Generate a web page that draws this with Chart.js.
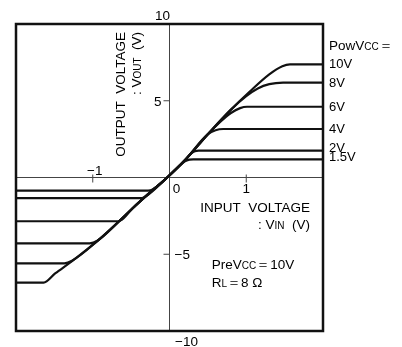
<!DOCTYPE html>
<html>
<head>
<meta charset="utf-8">
<script src="https://cdn.jsdelivr.net/npm/chart.js@4.4.1/dist/chart.umd.min.js"></script>
<style>
  body { margin: 0; background: #fff; }
</style>
</head>
<body>
<canvas id="c" width="402" height="347"></canvas>
<script>
// PowVcc curves, [Vin, Vout]
const pow15 = [[-2,-0.85],[-0.28,-0.85],[-0.22,-0.78],[-0.03,0],[0.2,1.05],[0.26,1.16],[0.31,1.18],[2,1.18]];
const pow2  = [[-2,-1.34],[-0.36,-1.34],[-0.3,-1.2],[-0.03,0],[0.2,1.12],[0.29,1.6],[0.33,1.71],[0.38,1.75],[2,1.75]];
const pow4  = [[-2,-2.85],[-0.67,-2.85],[-0.6,-2.66],[-0.48,-2.0],[-0.26,-1.0],[-0.03,0],[0.2,1.12],[0.5,2.82],[0.6,3.08],[0.7,3.16],[2,3.16]];
const pow6  = [[-2,-4.29],[-1.04,-4.29],[-0.94,-4.12],[-0.65,-2.82],[-0.48,-2.0],[-0.26,-1.0],[-0.03,0],[0.2,1.12],[0.5,2.82],[0.66,3.62],[0.8,4.2],[0.92,4.52],[1.01,4.61],[2,4.61]];
const pow8  = [[-2,-5.59],[-1.37,-5.59],[-1.27,-5.42],[-0.92,-4.05],[-0.65,-2.82],[-0.48,-2.0],[-0.26,-1.0],[-0.03,0],[0.2,1.12],[0.5,2.82],[0.8,4.42],[1.0,5.3],[1.15,5.8],[1.3,6.08],[1.48,6.18],[2,6.18]];
const pow10 = [[-2,-6.85],[-1.64,-6.85],[-1.49,-6.25],[-1.27,-5.45],[-0.92,-4.05],[-0.65,-2.82],[-0.48,-2.0],[-0.26,-1.0],[-0.03,0],[0.2,1.12],[0.5,2.82],[0.8,4.42],[1.05,5.62],[1.3,6.72],[1.47,7.25],[1.57,7.37],[2,7.37]];

const seriesNames = ['1.5V', '2V', '4V', '6V', '8V', '10V'];
const seriesData = [pow15, pow2, pow4, pow6, pow8, pow10];
// label nudges so 2V and 1.5V don't overlap
const labelShift = [-3, -3.5, 0, 0, 0, -1];

const FONT = '"Liberation Sans", Arial, sans-serif';

// draw text made of [string, size] pieces on one baseline
function rich(ctx, segs, x, y, align) {
  let w = 0;
  segs.forEach(s => { ctx.font = s[1] + 'px ' + FONT; w += ctx.measureText(s[0]).width; });
  let cx = align === 'right' ? x - w : align === 'center' ? x - w / 2 : x;
  ctx.textAlign = 'left';
  ctx.textBaseline = 'alphabetic';
  segs.forEach(s => {
    ctx.font = s[1] + 'px ' + FONT;
    ctx.fillText(s[0], cx, y);
    cx += ctx.measureText(s[0]).width;
  });
}

const decor = {
  id: 'decor',
  beforeDatasetsDraw(chart) {
    const { ctx, chartArea: a, scales: { x, y } } = chart;
    const x0 = x.getPixelForValue(0), y0 = y.getPixelForValue(0);
    ctx.save();
    ctx.strokeStyle = '#444';
    ctx.lineWidth = 1;
    ctx.beginPath();
    ctx.moveTo(x0, a.top); ctx.lineTo(x0, a.bottom);
    ctx.moveTo(a.left, y0); ctx.lineTo(a.right, y0);
    // small ticks
    [-1, 1].forEach(v => { const p = x.getPixelForValue(v); ctx.moveTo(p, y0 - 3); ctx.lineTo(p, y0 + 5); });
    [-5, 5].forEach(v => { const p = y.getPixelForValue(v); ctx.moveTo(x0 - 6, p); ctx.lineTo(x0, p); });
    ctx.stroke();
    ctx.restore();
  },
  afterDraw(chart) {
    const { ctx, chartArea: a, scales: { x, y } } = chart;
    const x0 = x.getPixelForValue(0), y0 = y.getPixelForValue(0);
    ctx.save();
    ctx.strokeStyle = '#111';
    ctx.lineWidth = 2.5;
    ctx.strokeRect(a.left, a.top, a.right - a.left, a.bottom - a.top);

    ctx.fillStyle = '#000';
    // tick labels
    rich(ctx, [['10', 13.5]], x0 - 7, a.top - 4, 'center');
    rich(ctx, [['\u221210', 13.5]], x0 + 17, a.bottom + 15, 'center');
    rich(ctx, [['5', 13.5]], x0 - 8, y.getPixelForValue(5) + 5, 'right');
    rich(ctx, [['\u22125', 13.5]], x0 + 5, y.getPixelForValue(-5) + 5, 'left');
    rich(ctx, [['0', 13.5]], x0 + 7, y0 + 15, 'center');
    rich(ctx, [['1', 13.5]], x.getPixelForValue(1), y0 + 15, 'center');
    rich(ctx, [['\u22121', 13.5]], x.getPixelForValue(-1) + 2, y0 - 3, 'center');

    // x axis title
    const tx = x.getPixelForValue(1.83);
    rich(ctx, [['INPUT  VOLTAGE', 13.5]], tx, y.getPixelForValue(-1.92) + 5, 'right');
    rich(ctx, [[': V', 13.5], ['IN', 10], ['  (V)', 13.5]], tx, y.getPixelForValue(-3.03) + 5, 'right');

    // y axis title, rotated
    ctx.save();
    ctx.translate(x.getPixelForValue(-0.65), y.getPixelForValue(9.48));
    ctx.rotate(-Math.PI / 2);
    rich(ctx, [['OUTPUT  VOLTAGE', 13.5]], 0, 5, 'right');
    rich(ctx, [[': V', 13.5], ['OUT', 10], ['  (V)', 13.5]], 0, 21, 'right');
    ctx.restore();

    // conditions
    const cx = x.getPixelForValue(0.55);
    rich(ctx, [['PreV', 13.5], ['CC', 10], ['\uFF1D10V', 13.5]], cx, y.getPixelForValue(-5.63) + 5, 'left');
    rich(ctx, [['R', 13.5], ['L', 10], ['\uFF1D8 \u03A9', 13.5]], cx, y.getPixelForValue(-6.8) + 5, 'left');

    // series labels on the right
    const lx = a.right + 6;
    rich(ctx, [['PowV', 13.5], ['CC', 10], ['\uFF1D', 13.5]], lx, y.getPixelForValue(8.6) + 5, 'left');
    seriesData.forEach((d, i) => {
      const lvl = d[d.length - 1][1];
      rich(ctx, [[seriesNames[i], 13]], lx, y.getPixelForValue(lvl) + 4.5 + labelShift[i], 'left');
    });
    ctx.restore();
  }
};

new Chart(document.getElementById('c'), {
  type: 'scatter',
  data: {
    datasets: seriesData.map((d, i) => ({
      label: seriesNames[i],
      data: d.map(p => ({ x: p[0], y: p[1] })),
      showLine: true,
      borderColor: '#111',
      borderWidth: 2.2,
      pointRadius: 0,
      cubicInterpolationMode: 'monotone',
      fill: false
    }))
  },
  options: {
    responsive: false,
    animation: false,
    layout: { padding: { left: 16, top: 24, right: 79, bottom: 16 } },
    plugins: { legend: { display: false }, tooltip: { enabled: false } },
    scales: {
      x: { type: 'linear', min: -2, max: 2, display: false },
      y: { type: 'linear', min: -10, max: 10, display: false }
    }
  },
  plugins: [decor]
});
</script>
</body>
</html>
